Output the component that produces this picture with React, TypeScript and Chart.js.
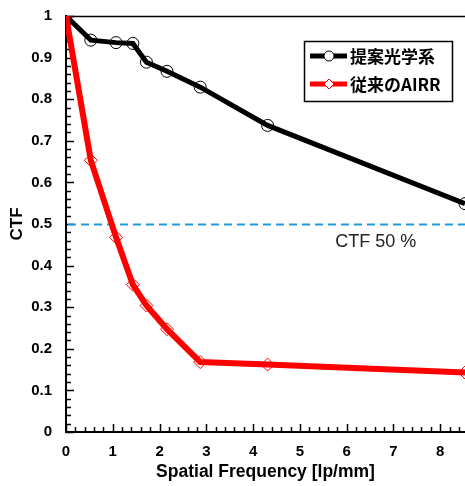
import React, { useEffect, useRef } from "react";
import { Chart, registerables } from "chart.js";

Chart.register(...registerables);

// ---- data ----
const freqs = [0, 0.53, 1.07, 1.43, 1.72, 2.16, 2.87, 4.31, 8.53];
const proposedCTF = [1.0, 0.942, 0.936, 0.934, 0.889, 0.867, 0.829, 0.737, 0.549];
const conventionalCTF = [1.0, 0.653, 0.468, 0.354, 0.304, 0.247, 0.168, 0.162, 0.143];
const seriesNames = ["提案光学系", "従来のAIRR"];
const thresholdValue = 0.5;
const thresholdLabel = "CTF 50 %";
const xTitle = "Spatial Frequency [lp/mm]";
const yTitle = "CTF";
const xMax = 8.53;

const FONT = "'Liberation Sans', Arial, sans-serif";
const CJK = "'Noto Sans CJK JP', 'Liberation Sans', sans-serif";

const decorPlugin = {
  id: "decor",
  beforeDatasetsDraw(chart: any) {
    const { ctx, chartArea, scales } = chart;
    const { left, right, top, bottom } = chartArea;
    const x = scales.x;
    const y = scales.y;
    ctx.save();
    // inward ticks
    ctx.strokeStyle = "#000";
    ctx.lineWidth = 1.5;
    ctx.beginPath();
    for (let i = 0; i <= 50; i++) {
      const py = Math.round(y.getPixelForValue(i * 0.02)) + 0.5;
      const len = i % 5 === 0 ? 8 : 5;
      ctx.moveTo(left, py);
      ctx.lineTo(left + len, py);
    }
    for (let i = 0; i * 0.2 <= xMax + 1e-9; i++) {
      const px = Math.round(x.getPixelForValue(i * 0.2)) + 0.5;
      const len = i % 5 === 0 ? 8 : 5;
      ctx.moveTo(px, bottom);
      ctx.lineTo(px, bottom - len);
    }
    ctx.stroke();
    // top frame line
    ctx.lineWidth = 1.5;
    ctx.beginPath();
    ctx.moveTo(left, Math.round(top) + 0.5);
    ctx.lineTo(right, Math.round(top) + 0.5);
    ctx.stroke();
    // threshold dashed line
    const ty = Math.round(y.getPixelForValue(thresholdValue)) + 0.5;
    ctx.strokeStyle = "#1f9bd7";
    ctx.lineWidth = 2;
    ctx.setLineDash([8, 5]);
    ctx.beginPath();
    ctx.moveTo(left + 2, ty);
    ctx.lineTo(right, ty);
    ctx.stroke();
    ctx.setLineDash([]);
    // threshold label
    ctx.fillStyle = "#222";
    ctx.font = `18px ${FONT}`;
    ctx.textAlign = "left";
    ctx.textBaseline = "middle";
    ctx.fillText(thresholdLabel, x.getPixelForValue(5.755), ty + 18);
    ctx.restore();
  },
  afterDraw(chart: any) {
    const { ctx } = chart;
    ctx.save();
    // legend box
    const bx = 304, by = 41, bw = 148, bh = 60;
    ctx.fillStyle = "#fff";
    ctx.fillRect(bx, by, bw, bh);
    ctx.strokeStyle = "#000";
    ctx.lineWidth = 1.5;
    ctx.strokeRect(bx + 0.5, by + 0.5, bw, bh);
    const rows = [
      { y: 56, color: "#000", name: seriesNames[0], shape: "circle" },
      { y: 84, color: "#ff0000", name: seriesNames[1], shape: "diamond" },
    ];
    rows.forEach((r) => {
      ctx.strokeStyle = r.color;
      ctx.lineWidth = 5;
      ctx.beginPath();
      ctx.moveTo(310, r.y);
      ctx.lineTo(347, r.y);
      ctx.stroke();
      ctx.lineWidth = 1;
      ctx.fillStyle = "#fff";
      ctx.beginPath();
      if (r.shape === "circle") {
        ctx.arc(329, r.y, 5, 0, Math.PI * 2);
      } else {
        ctx.moveTo(329, r.y - 5);
        ctx.lineTo(334, r.y);
        ctx.lineTo(329, r.y + 5);
        ctx.lineTo(324, r.y);
        ctx.closePath();
      }
      ctx.fill();
      ctx.stroke();
      ctx.fillStyle = "#000";
      ctx.font = `bold 17px ${CJK}`;
      ctx.textAlign = "left";
      ctx.textBaseline = "middle";
      ctx.fillText(r.name, 350, r.y + 1);
    });
    ctx.restore();
  },
};

export default function App() {
  const ref = useRef<HTMLCanvasElement | null>(null);
  useEffect(() => {
    if (!ref.current) return;
    const chart = new Chart(ref.current, {
      type: "line",
      data: {
        datasets: [
          {
            label: seriesNames[1],
            data: freqs.map((f, i) => ({ x: f, y: conventionalCTF[i] })),
            borderColor: "#ff0000",
            borderWidth: 6,
            pointStyle: "rectRot",
            pointRadius: 6.5,
            pointBorderWidth: 1,
            pointBorderColor: "#ff0000",
            pointBackgroundColor: "rgba(255,255,255,0)",
            tension: 0,
            order: 0,
          },
          {
            label: seriesNames[0],
            data: freqs.map((f, i) => ({ x: f, y: proposedCTF[i] })),
            borderColor: "#000",
            borderWidth: 5,
            pointStyle: "circle",
            pointRadius: 6,
            pointBorderWidth: 1,
            pointBorderColor: "#000",
            pointBackgroundColor: "rgba(255,255,255,0)",
            tension: 0,
            order: 1,
          },
        ],
      },
      options: {
        responsive: false,
        animation: false,
        layout: { autoPadding: false, padding: { top: 16, right: 0, left: 0, bottom: 0 } },
        plugins: { legend: { display: false }, tooltip: { enabled: false } },
        scales: {
          x: {
            type: "linear",
            min: 0,
            max: xMax,
            grid: { display: true, drawOnChartArea: false, drawTicks: false },
            border: { display: true, color: "#000", width: 2 },
            ticks: {
              stepSize: 1,
              includeBounds: false,
              padding: 11,
              color: "#000",
              font: { family: FONT, size: 15, weight: "bold" },
            },
            title: {
              display: true,
              text: xTitle,
              color: "#000",
              font: { family: FONT, size: 17.5, weight: "bold" },
              padding: { top: 0, bottom: 3 },
            },
            afterFit: (s: any) => {
              s.height = 54;
            },
          },
          y: {
            type: "linear",
            min: 0,
            max: 1,
            grid: {
              display: true,
              drawOnChartArea: false,
              drawTicks: true,
              tickLength: 10,
              color: "rgba(0,0,0,0)",
            },
            border: { display: true, color: "#000", width: 2 },
            ticks: {
              stepSize: 0.1,
              padding: 4,
              color: "#000",
              font: { family: FONT, size: 15, weight: "bold" },
              callback: (v: any) => {
                const n = Number(v);
                if (Math.abs(n - 1) < 1e-9) return "1";
                if (Math.abs(n) < 1e-9) return "0";
                return n.toFixed(1);
              },
            },
            title: {
              display: true,
              text: yTitle,
              color: "#000",
              font: { family: FONT, size: 17, weight: "bold" },
              padding: { top: 7, bottom: 0 },
            },
            afterFit: (s: any) => {
              s.width = 66;
            },
          },
        },
      },
      plugins: [decorPlugin],
    });
    return () => chart.destroy();
  }, []);
  return (
    <div style={{ position: "absolute", left: 0, top: 0, width: 465, height: 486, background: "#fff" }}>
      <canvas ref={ref} width={465} height={486} />
    </div>
  );
}
